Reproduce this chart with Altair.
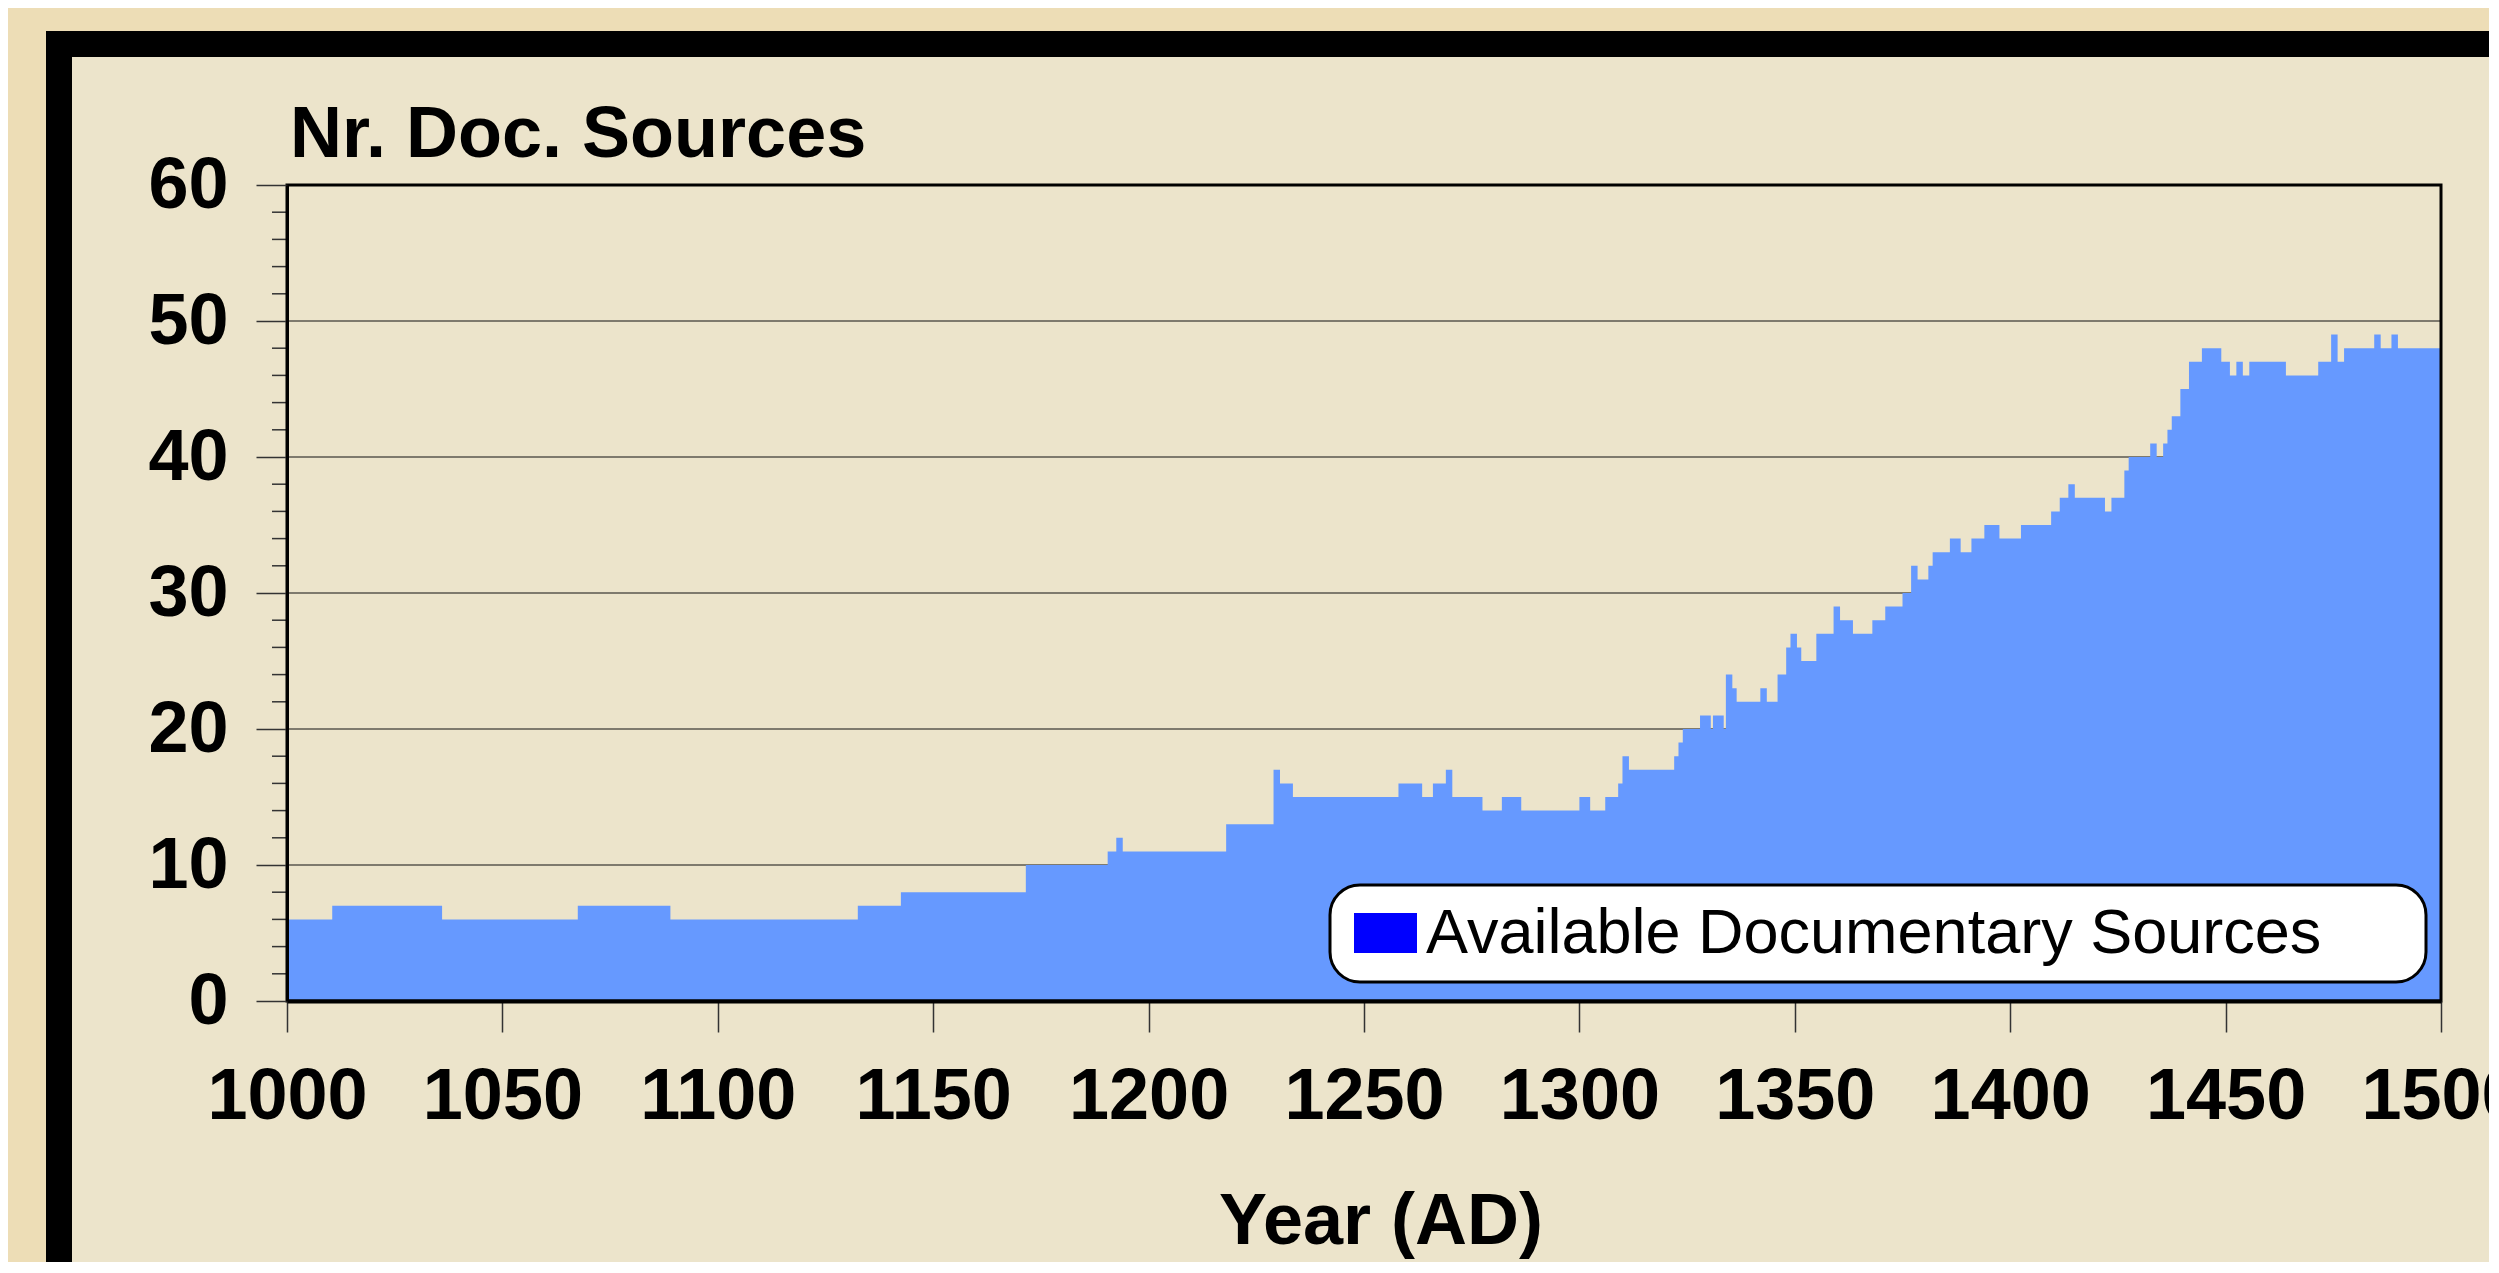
import altair as alt
import pandas as pd

# ---- data (step series: start year of each level, level) ----
seg_start = [1000, 1010.5, 1036, 1067.5, 1089, 1132.5, 1142.5, 1171.5, 1190.5, 1192.5,
             1194, 1218, 1229, 1230.5, 1233.5, 1258, 1263.5, 1266, 1269, 1270.5,
             1277.5, 1282, 1286.5, 1300, 1302.5, 1306, 1309, 1310, 1311.5, 1322,
             1323, 1324, 1328, 1330.5, 1331, 1333.5, 1334, 1335.5, 1336.5, 1342,
             1343.5, 1346, 1348, 1349, 1350.5, 1351.5, 1355, 1359, 1360.5, 1363.5,
             1368, 1371, 1375, 1377, 1378.5, 1381, 1382, 1386, 1388.5, 1391,
             1394, 1397.5, 1402.5, 1409.5, 1411.5, 1413.5, 1415, 1422, 1423.5, 1426.5,
             1427.5, 1432.5, 1434, 1435.5, 1436.5, 1437.5, 1439.5, 1441.5, 1444.5, 1449,
             1451, 1452.5, 1454, 1455.5, 1464, 1471.5, 1474.5, 1476, 1477.5, 1484.5,
             1486, 1488.5, 1490]
seg_value = [6, 7, 6, 7, 6, 7, 8, 10, 11, 12,
             11, 13, 17, 16, 15, 16, 15, 16, 17, 15,
             14, 15, 14, 15, 14, 15, 16, 18, 17, 18,
             19, 20, 21, 20, 21, 20, 24, 23, 22, 23,
             22, 24, 26, 27, 26, 25, 27, 29, 28, 27,
             28, 29, 30, 32, 31, 32, 33, 34, 33, 34,
             35, 34, 35, 36, 37, 38, 37, 36, 37, 39,
             40, 41, 40, 41, 42, 43, 45, 47, 48, 47,
             46, 47, 46, 47, 46, 47, 49, 47, 48, 49,
             48, 49, 48]
end_year = 1500

x_ticks = [1000, 1050, 1100, 1150, 1200, 1250, 1300, 1350, 1400, 1450, 1500]
y_ticks = [0, 10, 20, 30, 40, 50, 60]
grid_values = [10, 20, 30, 40, 50]
minor_ticks = [v for v in range(2, 60, 2) if v % 10 != 0]

series_name = "Available Documentary Sources"
y_title = "Nr. Doc. Sources"
x_title = "Year (AD)"

# ---- tables ----
rows = [{"year": s, "n": v} for s, v in zip(seg_start, seg_value)]
rows.append({"year": end_year, "n": seg_value[-1]})
df = pd.DataFrame(rows)
grid_df = pd.DataFrame({"g": grid_values})
minor_df = pd.DataFrame({"m": minor_ticks})
one = pd.DataFrame({"k": [0]})

W, H = 2154, 816
FONT = "Liberation Sans"
AREA = "#6699FF"
INNER_BG = "#ECE4CB"
OUTER_BG = "#EDDDB6"

xscale = alt.Scale(domain=[1000, 1500], nice=False, zero=False)
yscale = alt.Scale(domain=[0, 60], nice=False)

# decorative frame behind everything
frame_black = alt.Chart(one).mark_rect(color="black").encode(
    x=alt.value(-241), x2=alt.value(W + 200), y=alt.value(-154), y2=alt.value(H + 400)
)
frame_inner = alt.Chart(one).mark_rect(color=INNER_BG).encode(
    x=alt.value(-215), x2=alt.value(W + 200), y=alt.value(-128), y2=alt.value(H + 400)
)

grid = alt.Chart(grid_df).mark_rule(color="#111111", strokeWidth=1).encode(
    y=alt.Y("g:Q", scale=yscale), x=alt.value(0), x2=alt.value(W)
)

area = alt.Chart(df).mark_area(interpolate="step-after", color=AREA, opacity=1).encode(
    x=alt.X("year:Q", scale=xscale,
            axis=alt.Axis(values=x_ticks, format="d", title=None, grid=False,
                          labelFontSize=72, labelFontWeight="bold", labelFont=FONT,
                          labelColor="black", labelPadding=29, tickSize=31,
                          tickColor="#333333", tickWidth=1.5, domainColor="black",
                          domainWidth=4, labelFlush=False, labelOverlap=False,
                          zindex=1)),
    y=alt.Y("n:Q", scale=yscale,
            axis=alt.Axis(values=y_ticks, title=None, grid=False,
                          labelFontSize=72, labelFontWeight="bold", labelFont=FONT,
                          labelColor="black", labelPadding=28, tickSize=31,
                          tickColor="#333333", tickWidth=1.5, domainColor="black",
                          domainWidth=3, labelOverlap=False, zindex=1)),
)

minor = alt.Chart(minor_df).mark_rule(color="#333333", strokeWidth=1.5).encode(
    y=alt.Y("m:Q", scale=yscale), x=alt.value(-15), x2=alt.value(0)
)

plot_box = alt.Chart(one).mark_rect(filled=False, stroke="black", strokeWidth=3).encode(
    x=alt.value(0), x2=alt.value(W), y=alt.value(0), y2=alt.value(H)
)

legend_box = alt.Chart(one).mark_rect(fill="white", stroke="black", strokeWidth=3,
                                      cornerRadius=30).encode(
    x=alt.value(1043), x2=alt.value(2139), y=alt.value(700), y2=alt.value(797)
)
legend_swatch = alt.Chart(one).mark_rect(color="#0000FF").encode(
    x=alt.value(1067), x2=alt.value(1130), y=alt.value(728), y2=alt.value(768)
)
legend_text = alt.Chart(one).mark_text(align="left", baseline="alphabetic", fontSize=63,
                                       font=FONT, color="black").encode(
    x=alt.value(1139), y=alt.value(768), text=alt.value(series_name)
)

title_y = alt.Chart(one).mark_text(align="left", baseline="alphabetic", fontSize=72,
                                   fontWeight="bold", font=FONT, color="black").encode(
    x=alt.value(3), y=alt.value(-28), text=alt.value(y_title)
)
title_x = alt.Chart(one).mark_text(align="center", baseline="alphabetic", fontSize=72,
                                   fontWeight="bold", font=FONT, color="black").encode(
    x=alt.value(1094), y=alt.value(1059), text=alt.value(x_title)
)

chart = alt.layer(
    frame_black, frame_inner, grid, area, minor, plot_box,
    legend_box, legend_swatch, legend_text, title_y, title_x
).properties(
    width=W, height=H,
    autosize=alt.AutoSizeParams(type="none"),
    padding={"left": 279, "top": 177, "right": 48, "bottom": 261},
    background=OUTER_BG,
).configure_view(stroke=None)

chart.save("out.html", embed_options={"renderer": "svg", "actions": False})
